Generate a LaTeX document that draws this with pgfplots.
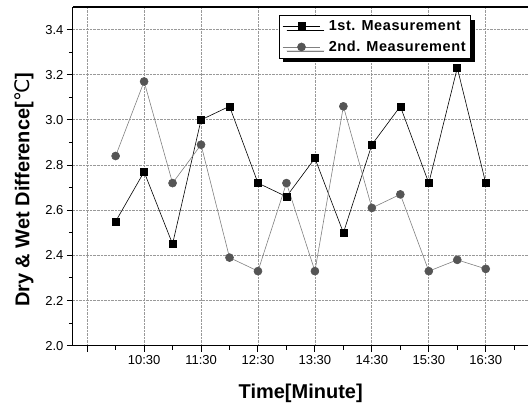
\documentclass[border=0pt]{standalone}
\usepackage{fontspec}
\setmainfont{Liberation Sans}
\newfontfamily\dejavu{DejaVu Sans}
\usepackage{pgfplots}
\pgfplotsset{compat=1.18}
\usetikzlibrary{shadows}

\definecolor{markgray}{HTML}{555555}
\definecolor{linegray}{HTML}{808080}

\begin{document}
\begin{tikzpicture}
\begin{axis}[
    name=ax,
    scale only axis,
    width=456pt, height=339pt,
    xmin=9.25, xmax=17.25,
    ymin=2.0, ymax=3.5,
    axis x line=box, axis y line=left,
    axis line style={-, black, line width=1.1pt},
    xtick pos=bottom,
    tick align=outside,
    tick style={black, line width=1pt},
    major tick length=6pt, minor tick length=4pt,
    xtick={9.5,10.5,11.5,12.5,13.5,14.5,15.5,16.5},
    xticklabels={,10:30,11:30,12:30,13:30,14:30,15:30,16:30},
    minor xtick={10,11,12,13,14,15,16,17},
    ytick={2.0,2.2,2.4,2.6,2.8,3.0,3.2,3.4},
    minor ytick={2.1,2.3,2.5,2.7,2.9,3.1,3.3},
    grid=major,
    major grid style={densely dotted, gray!80, line width=0.8pt},
    tick label style={font=\fontsize{13}{13}\selectfont},
    /pgf/number format/assume math mode=true,
    yticklabel style={/pgf/number format/.cd, fixed, fixed zerofill, precision=1},
    xlabel={Time[Minute]},
    xlabel style={font=\fontsize{20}{20}\selectfont\bfseries,
        at={(axis description cs:0.5,-0.1563)}, anchor=base},
    ylabel={Dry \& Wet Difference[{\dejavu\mdseries ℃}]},
    ylabel style={font=\fontsize{20}{20}\selectfont\bfseries,
        at={(axis description cs:-0.0954,0.46)}, anchor=base, rotate=0},
    legend cell align=left,
    legend image code/.code={\draw[mark repeat=2,mark phase=2,#1] plot coordinates {(0pt,0pt) (19pt,0pt) (38pt,0pt)};},
    legend style={at={(rel axis cs:0.452,0.976)}, anchor=north west,
        font=\fontsize{14.5}{14.5}\selectfont\bfseries\addfontfeature{LetterSpace=4},
        draw=black, line width=0.8pt, fill=white,
        row sep=5pt, inner sep=3pt,
        nodes={inner ysep=2pt},
        /tikz/every odd column/.append style={column sep=6pt},
        drop shadow={shadow xshift=4pt, shadow yshift=-4pt, fill=black, opacity=1}},
]
\addplot[black, line width=0.6pt, mark=square*, mark size=3.5pt,
    mark options={solid, fill=black}]
  coordinates {(10,2.55) (10.5,2.77) (11,2.45) (11.5,3.00) (12,3.06) (12.5,2.72) (13,2.66)
    (13.5,2.83) (14,2.50) (14.5,2.89) (15,3.06) (15.5,2.72) (16,3.23) (16.5,2.72)};
\addlegendentry{1st. Measurement}
\addplot[linegray, line width=0.6pt, mark=*, mark size=4pt,
    mark options={solid, draw=markgray, fill=markgray}]
  coordinates {(10,2.84) (10.5,3.17) (11,2.72) (11.5,2.89) (12,2.39) (12.5,2.33) (13,2.72)
    (13.5,2.33) (14,3.06) (14.5,2.61) (15,2.67) (15.5,2.33) (16,2.38) (16.5,2.34)};
\addlegendentry{2nd. Measurement}
\end{axis}
\path ([shift={(-73pt,-61pt)}]ax.south west) rectangle ([shift={(0pt,7pt)}]ax.north east);
\end{tikzpicture}
\end{document}
